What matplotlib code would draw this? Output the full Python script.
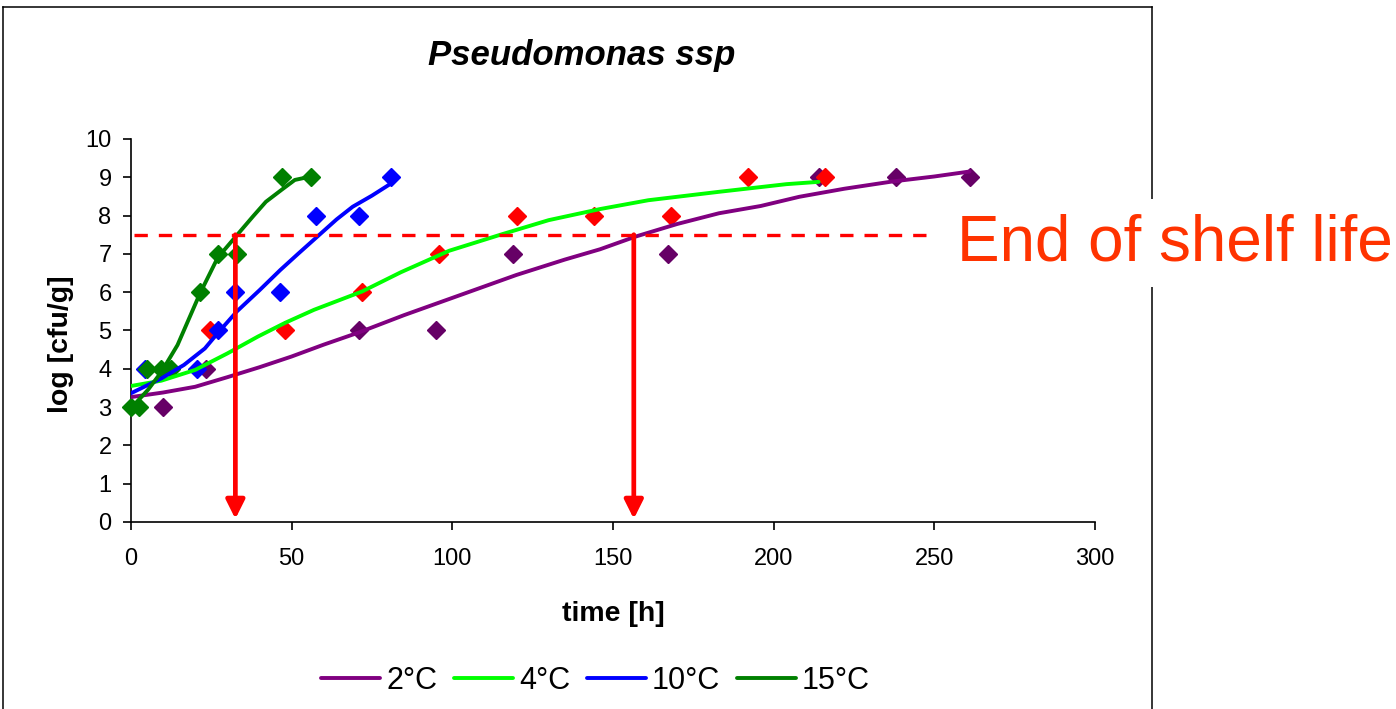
import matplotlib
matplotlib.use("Agg")
import matplotlib.pyplot as plt
from matplotlib.lines import Line2D

plt.rcParams['font.family'] = ['Liberation Sans', 'DejaVu Sans']

# Measured counts (diamonds) per storage temperature
t_2c = [10, 23.5, 71, 95, 119, 167, 214, 238, 261]
v_2c = [3, 4, 5, 5, 7, 7, 9, 9, 9]
t_4c = [24.5, 48, 72, 96, 120, 144, 168, 192, 216]
v_4c = [5, 5, 6, 7, 8, 8, 8, 9, 9]
t_10c = [4.5, 20.5, 27, 32.5, 46.5, 57.5, 71, 81]
v_10c = [4, 4, 5, 6, 6, 8, 8, 9]
t_15c = [0, 2.5, 5, 9.5, 12.5, 21.5, 27, 33, 47, 56]
v_15c = [3, 3, 4, 4, 4, 6, 7, 7, 9, 9]

# Fitted growth curves
fit_t_2c = [0, 10, 20, 30, 40, 50, 60, 71, 85, 100, 110, 120, 135, 146,
            157, 170, 183, 196, 208, 222, 237, 250, 261]
fit_v_2c = [3.26, 3.38, 3.53, 3.78, 4.04, 4.32, 4.63, 4.95, 5.4, 5.85,
            6.15, 6.45, 6.85, 7.12, 7.45, 7.78, 8.06, 8.25, 8.49, 8.7,
            8.89, 9.02, 9.15]
fit_t_4c = [0, 9.5, 20, 30, 39.5, 48, 57, 72, 84, 99, 115, 130, 146, 161,
            183, 204, 214]
fit_v_4c = [3.55, 3.69, 3.97, 4.4, 4.84, 5.2, 5.54, 6.02, 6.52, 7.08, 7.5,
            7.88, 8.17, 8.4, 8.62, 8.82, 8.88]
fit_t_10c = [0, 9.5, 16.5, 23, 27, 33, 40, 46.5, 52, 58, 64, 69, 75, 81]
fit_v_10c = [3.36, 3.75, 4.1, 4.53, 4.93, 5.5, 6.05, 6.58, 7.0, 7.45,
             7.9, 8.23, 8.52, 8.84]
fit_t_15c = [0, 5.3, 9.5, 14.5, 21.5, 27, 33, 38, 42, 47, 51, 56]
fit_v_15c = [2.97, 3.45, 3.92, 4.62, 5.97, 6.9, 7.49, 7.98, 8.36, 8.68,
             8.93, 9.02]

shelf_limit = 7.5
shelf_end_15c = 32.5
shelf_end_2c = 156.5

fig = plt.figure(figsize=(13.96, 7.09), dpi=100)
ax = fig.add_axes([0.0938, 0.2638, 0.6905, 0.5402])

series = [
    ('2°C', fit_t_2c, fit_v_2c, t_2c, v_2c, '#800080', '#660066'),
    ('4°C', fit_t_4c, fit_v_4c, t_4c, v_4c, '#00ff00', '#ff0000'),
    ('10°C', fit_t_10c, fit_v_10c, t_10c, v_10c, '#0000ff', '#0000ff'),
    ('15°C', fit_t_15c, fit_v_15c, t_15c, v_15c, '#008000', '#008000'),
]
handles = []
for label, ft, fv, pt, pv, lc, mc in series:
    ax.plot(pt, pv, linestyle='none', marker='D', markersize=9,
            color=mc, zorder=3, clip_on=False)
    ln, = ax.plot(ft, fv, color=lc, lw=2.8, zorder=4, label=label,
                  solid_capstyle='round', solid_joinstyle='round')
    handles.append(ln)

# shelf-life limit and the times where it is reached
ax.plot([1, 250], [shelf_limit, shelf_limit], color='#ff0000', lw=2.4,
        dashes=(4.0, 3.3), zorder=5, clip_on=False)
for x in (shelf_end_15c, shelf_end_2c):
    ax.annotate('', xy=(x, 0.08), xytext=(x, shelf_limit),
                arrowprops=dict(arrowstyle='-|>', color='#ff0000', lw=3.4,
                                mutation_scale=28, shrinkA=0, shrinkB=0),
                zorder=6)

ax.set_xlim(0, 300)
ax.set_ylim(0, 10)
ax.set_xticks(range(0, 301, 50))
ax.set_yticks(range(0, 11))
ax.spines['top'].set_visible(False)
ax.spines['right'].set_visible(False)
for s in ('left', 'bottom'):
    ax.spines[s].set_linewidth(1.2)
ax.tick_params(axis='both', direction='out', length=6, width=1.2,
               labelsize=17)
ax.tick_params(axis='x', pad=13)
ax.tick_params(axis='y', pad=8)

ax.set_xlabel('time [h]', fontsize=20.5, fontweight='bold', va='center')
ax.xaxis.set_label_coords(0.5, -0.24)
ax.set_ylabel('log [cfu/g]', fontsize=20.5, fontweight='bold',
              va='center', ha='center')
ax.yaxis.set_label_coords(-0.0726, 0.465)

fig.text(0.4165, 0.922, 'Pseudomonas ssp', fontsize=25, fontweight='bold',
         fontstyle='italic', ha='center', va='center')

# chart frame
for xs, ys in (([0.002, 0.002], [0.0, 0.990]),
               ([0.002, 0.825], [0.990, 0.990]),
               ([0.825, 0.825], [0.0, 0.990])):
    fig.add_artist(Line2D(xs, ys, color='black', lw=1.1,
                          transform=fig.transFigure))

fig.text(0.6855, 0.633, 'End of shelf life', fontsize=46, color='#ff3300',
         ha='left', va='baseline', zorder=10,
         bbox=dict(facecolor='white', edgecolor='none', pad=10))

fig.legend(handles=handles, loc='center', bbox_to_anchor=(0.4266, 0.0395),
           ncol=4, frameon=False, fontsize=22, handlelength=1.93,
           handletextpad=0.2, columnspacing=0.55, borderpad=0.2)

fig.savefig('out.png', dpi=100)
